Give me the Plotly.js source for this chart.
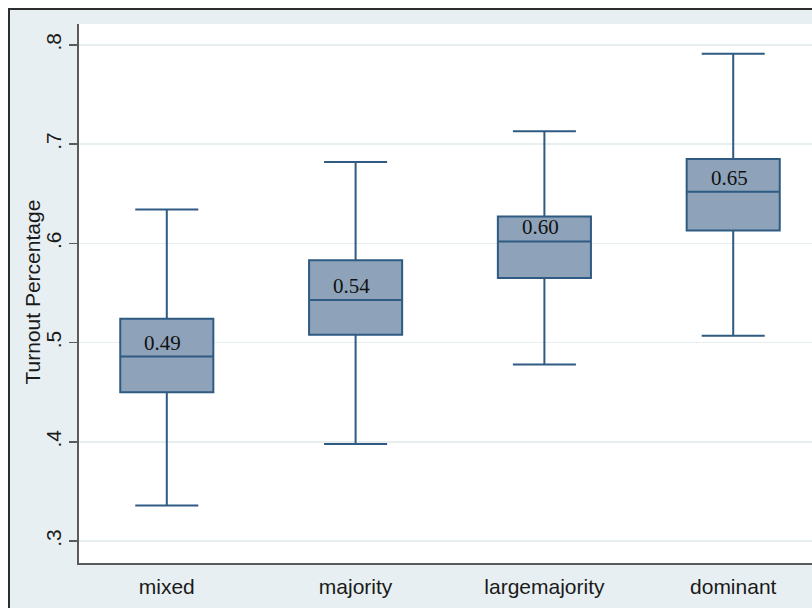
<!DOCTYPE html>
<html>
<head>
<meta charset="utf-8">
<script src="https://cdn.plot.ly/plotly-3.0.1.min.js"></script>
<style>
  html, body { margin: 0; padding: 0; width: 812px; height: 608px; overflow: hidden; background: #ffffff; }
  #frame { position: absolute; left: 8px; top: 8px; border-left: 2px solid #2e2e2e; border-top: 2px solid #2e2e2e; background: #e8eff2; width: 840px; height: 640px; }
  #chart { position: absolute; left: 0; top: 0; width: 831px; height: 620px; }
</style>
</head>
<body>
<div id="frame"><div id="chart"></div></div>
<script>
// Data
const categories   = ["mixed", "majority", "largemajority", "dominant"];
const lowerWhisker = [0.336, 0.398, 0.478, 0.507];
const q1Values     = [0.450, 0.508, 0.565, 0.613];
const medianValues = [0.486, 0.543, 0.602, 0.652];
const q3Values     = [0.524, 0.583, 0.627, 0.685];
const upperWhisker = [0.634, 0.682, 0.713, 0.791];
const yTickVals    = [0.3, 0.4, 0.5, 0.6, 0.7, 0.8];
const yTickText    = [".3", ".4", ".5", ".6", ".7", ".8"];
const yTitle       = "Turnout Percentage";

const boxLine = "#2f5a82";
const boxFill = "#8ea3b9";

const trace = {
  type: "box",
  x: categories,
  q1: q1Values,
  median: medianValues,
  q3: q3Values,
  lowerfence: lowerWhisker,
  upperfence: upperWhisker,
  boxpoints: false,
  width: 0.493,
  whiskerwidth: 0.677,
  line: { color: boxLine, width: 2 },
  fillcolor: boxFill,
  hoverinfo: "skip",
  showlegend: false
};

const annotations = categories.map((c, i) => ({
  x: c, y: medianValues[i], xref: "x", yref: "y",
  text: medianValues[i].toFixed(2),
  showarrow: false, yshift: 14, xshift: -4,
  font: { family: "Liberation Serif, Times New Roman, serif", size: 21, color: "#111111" }
}));

// y-axis title placed as rotated text left of the tick labels
annotations.push({
  xref: "paper", yref: "paper", x: -0.062, y: 0.5,
  xanchor: "center", yanchor: "middle", textangle: -90, yshift: 2,
  text: yTitle, showarrow: false,
  font: { family: "Liberation Sans, Arial, sans-serif", size: 21, color: "#1a1a1a" }
});

const layout = {
  width: 831, height: 620,
  margin: { l: 69, r: 20, t: 14, b: 67 },
  paper_bgcolor: "#e8eff2",
  plot_bgcolor: "#ffffff",
  font: { family: "Liberation Sans, Arial, sans-serif", size: 21, color: "#1a1a1a" },
  showlegend: false,
  hovermode: false,
  xaxis: {
    type: "category",
    range: [-0.465, 3.465],
    showgrid: false,
    zeroline: false,
    showline: true, linecolor: "#5a5a5a", linewidth: 2,
    ticks: "",
    ticklabelstandoff: 4,
    tickfont: { size: 21, color: "#1a1a1a" },
    fixedrange: true
  },
  yaxis: {
    range: [0.278, 0.821],
    tickvals: yTickVals,
    ticktext: yTickText,
    tickangle: -90,
    ticks: "outside", ticklen: 8, tickwidth: 1.5, tickcolor: "#5a5a5a",
    showline: true, linecolor: "#5a5a5a", linewidth: 2,
    showgrid: true, gridcolor: "#e6eef0", gridwidth: 1.5,
    zeroline: false,
    tickfont: { size: 21, color: "#1a1a1a" },
    fixedrange: true
  },
  annotations: annotations
};

Plotly.newPlot("chart", [trace], layout, { displayModeBar: false, staticPlot: true });
</script>
</body>
</html>
